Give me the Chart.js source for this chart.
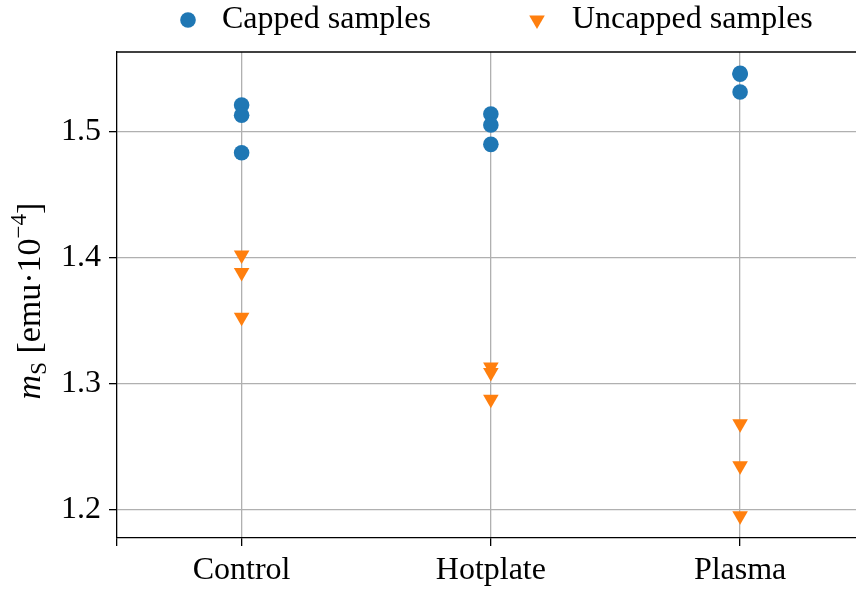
<!DOCTYPE html>
<html>
<head>
<meta charset="utf-8">
<script src="https://cdn.jsdelivr.net/npm/chart.js@4/dist/chart.umd.min.js"></script>
<style>
  html, body { margin: 0; padding: 0; background: #fff; }
  #chart { display: block; }
</style>
</head>
<body>
<canvas id="chart" width="856" height="590"></canvas>
<script>
// categories on the x axis
const categories = ['Control', 'Hotplate', 'Plasma'];

// m_S values, three samples per treatment
const cappedControl = [1.5214, 1.5133, 1.4835];
const cappedHotplate = [1.5143, 1.5056, 1.4902];
const cappedPlasma = [1.5466, 1.5458, 1.5318];
const uncappedControl = [1.4024, 1.3885, 1.3530];
const uncappedHotplate = [1.3136, 1.3091, 1.2879];
const uncappedPlasma = [1.2684, 1.2352, 1.1955];

const yTicks = [1.2, 1.3, 1.4, 1.5];
const xTicks = [-0.5, 0, 1, 2];

const BLUE = '#1f77b4';
const ORANGE = '#ff7f0e';
const GRID = '#b0b0b0';
const FONT = "'Liberation Serif', 'Times New Roman', serif";
const FS = 32;

function toPoints(groups) {
  const pts = [];
  groups.forEach((vals, i) => vals.forEach(v => pts.push({ x: i, y: v })));
  return pts;
}

// legend on top + top spine + y title with math bits
const decorations = {
  id: 'decorations',
  afterDraw(chart) {
    const ctx = chart.ctx;
    const area = chart.chartArea;
    ctx.save();

    // top spine
    ctx.strokeStyle = '#000';
    ctx.lineWidth = 1.3;
    ctx.beginPath();
    ctx.moveTo(area.left, area.top);
    ctx.lineTo(area.right, area.top);
    ctx.stroke();

    // legend
    ctx.font = FS + 'px ' + FONT;
    ctx.textBaseline = 'middle';
    ctx.fillStyle = BLUE;
    ctx.beginPath();
    ctx.arc(188, 20, 7.8, 0, Math.PI * 2);
    ctx.fill();
    ctx.fillStyle = '#000';
    ctx.fillText('Capped samples', 222, 20);

    const r = 9;
    ctx.fillStyle = ORANGE;
    ctx.beginPath();
    ctx.moveTo(537, 20 + r);
    ctx.lineTo(537 - r * 0.866, 20 - r * 0.5);
    ctx.lineTo(537 + r * 0.866, 20 - r * 0.5);
    ctx.closePath();
    ctx.fill();
    ctx.fillStyle = '#000';
    ctx.fillText('Uncapped samples', 572, 20);

    // y axis title: m_S [emu·10^-4]
    const parts = [
      { t: 'm', f: 'italic 34px ' + FONT, dy: 0 },
      { t: 'S', f: '23px ' + FONT, dy: 6 },
      { t: ' [emu·10', f: '34px ' + FONT, dy: 0 },
      { t: '−4', f: '23px ' + FONT, dy: -14 },
      { t: ']', f: '34px ' + FONT, dy: 0 },
    ];
    let total = 0;
    parts.forEach(p => { ctx.font = p.f; p.w = ctx.measureText(p.t).width; total += p.w; });
    ctx.translate(40, 301);
    ctx.rotate(-Math.PI / 2);
    ctx.textBaseline = 'alphabetic';
    let x = -total / 2;
    parts.forEach(p => { ctx.font = p.f; ctx.fillText(p.t, x, p.dy); x += p.w; });

    ctx.restore();
  }
};

new Chart(document.getElementById('chart'), {
  type: 'scatter',
  data: {
    datasets: [
      {
        label: 'Capped samples',
        data: toPoints([cappedControl, cappedHotplate, cappedPlasma]),
        pointStyle: 'circle',
        pointRadius: 7.8,
        pointBackgroundColor: BLUE,
        pointBorderWidth: 0,
      },
      {
        label: 'Uncapped samples',
        data: toPoints([uncappedControl, uncappedHotplate, uncappedPlasma]),
        pointStyle: 'triangle',
        rotation: 180,
        pointRadius: 9,
        pointBackgroundColor: ORANGE,
        pointBorderWidth: 0,
      },
    ],
  },
  options: {
    responsive: false,
    devicePixelRatio: 1,
    animation: false,
    events: [],
    layout: { autoPadding: false, padding: { top: 52, left: 0, right: 0, bottom: 0 } },
    plugins: {
      legend: { display: false },
      tooltip: { enabled: false },
    },
    scales: {
      x: {
        type: 'linear',
        min: -0.5,
        max: 2.465,
        afterBuildTicks: s => { s.ticks = xTicks.map(v => ({ value: v })); },
        afterFit: s => { s.height = 52; },
        ticks: {
          autoSkip: false,
          maxRotation: 0,
          padding: 5,
          color: '#000',
          font: { family: FONT, size: FS },
          callback: v => categories[v] ?? '',
        },
        grid: {
          color: c => (c.tick && c.tick.value === -0.5 ? 'rgba(0,0,0,0)' : GRID),
          lineWidth: 1.3,
          tickColor: '#000',
          tickLength: 8,
          tickWidth: 1.3,
        },
        border: { color: '#000', width: 1.3 },
      },
      y: {
        min: 1.1778,
        max: 1.5635,
        afterBuildTicks: s => { s.ticks = yTicks.map(v => ({ value: v })); },
        afterFit: s => { s.width = 117; },
        ticks: {
          padding: 8,
          color: '#000',
          font: { family: FONT, size: FS },
          callback: v => v.toFixed(1),
        },
        grid: {
          color: GRID,
          lineWidth: 1.3,
          tickColor: '#000',
          tickLength: 8,
          tickWidth: 1.3,
        },
        border: { color: '#000', width: 1.3 },
      },
    },
  },
  plugins: [decorations],
});
</script>
</body>
</html>
